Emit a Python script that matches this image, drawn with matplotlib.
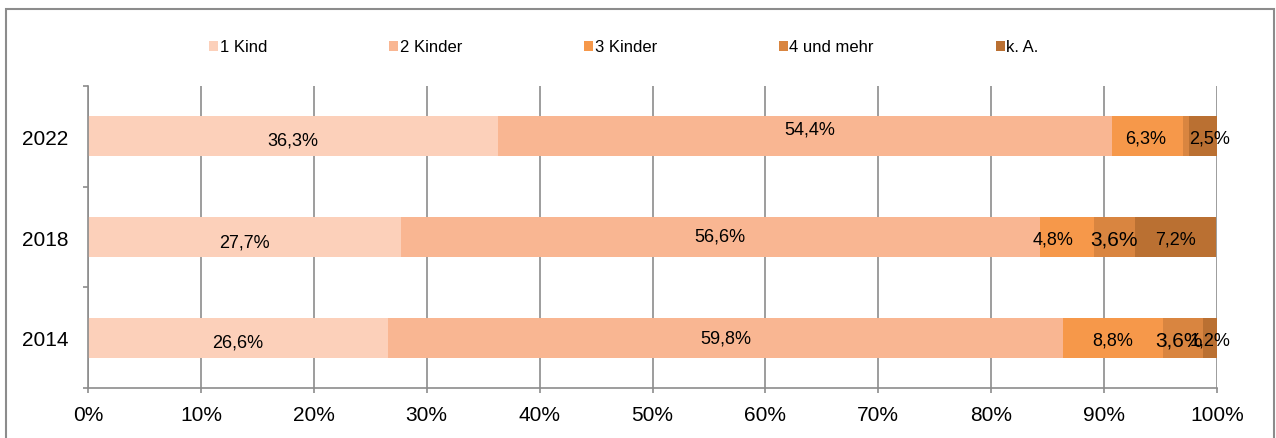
import matplotlib
matplotlib.use('Agg')
import matplotlib.pyplot as plt
from matplotlib.patches import Rectangle
import numpy as np

plt.rcParams['font.family'] = ['Liberation Sans', 'DejaVu Sans']

years = ['2014', '2018', '2022']
series = ['1 Kind', '2 Kinder', '3 Kinder', '4 und mehr', 'k. A.']
kind1 = [26.6, 27.7, 36.3]
kinder2 = [59.8, 56.6, 54.4]
kinder3 = [8.8, 4.8, 6.3]
mehr4 = [3.6, 3.6, 0.5]
ka = [1.2, 7.2, 2.5]
values = [kind1, kinder2, kinder3, mehr4, ka]
colors = ['#FCD0BA', '#F9B692', '#F6984A', '#D98540', '#BA7032']

# manual label nudges (px) as in the original Excel chart: (series, year) -> (dx, dy, size)
nudges = {
    (0, 0): (0, -4, 13), (1, 0): (0, 0, 13), (2, 0): (0, -2, 13), (3, 0): (-4, -2, 15), (4, 0): (0, -2, 13),
    (0, 1): (0, -5, 13), (1, 1): (0, 1, 13), (2, 1): (-14, -2, 13), (3, 1): (0, -2, 15), (4, 1): (0, -2, 13),
    (0, 2): (0, -4, 13), (1, 2): (5, 7, 13), (2, 2): (-2, -2, 13), (4, 2): (7, -2, 13),
}

grey = '#8C8C8C'
fig = plt.figure(figsize=(12.76, 4.39), dpi=100)
ax = fig.add_axes([88 / 1276, 50 / 439, 1129 / 1276, 302 / 439])

y = np.arange(len(years))
left = np.zeros(len(years))
for i, vals in enumerate(values):
    ax.barh(y, vals, left=left, height=0.4, color=colors[i], label=series[i], zorder=2)
    for j, v in enumerate(vals):
        if (i, j) in nudges:
            dx, dy, fs = nudges[(i, j)]
            ax.annotate(f'{v:.1f}'.replace('.', ',') + '%', (left[j] + v / 2, j),
                        xytext=(dx * 0.72, dy * 0.72), textcoords='offset points',
                        ha='center', va='center', fontsize=fs, color='black', zorder=3)
    left = left + np.array(vals)

ax.set_xlim(0, 100)
ax.set_ylim(-0.5, 2.5)
ax.set_xticks(np.arange(0, 101, 10))
ax.set_xticklabels([f'{t}%' for t in range(0, 101, 10)], fontsize=15)
ax.set_yticks([-0.5, 0.5, 1.5, 2.5])
ax.set_yticklabels([])
ax.set_yticks(y, minor=True)
ax.set_yticklabels(years, minor=True, fontsize=15)
ax.tick_params(axis='y', which='minor', length=0, pad=14)
ax.tick_params(axis='y', which='major', length=3.6, width=1.2, color=grey, direction='out')
ax.tick_params(axis='x', length=3.6, width=1.2, color=grey, direction='out', pad=9)
ax.grid(axis='x', color=grey, lw=1.2, zorder=1)
ax.set_axisbelow(True)
for s in ['top', 'right']:
    ax.spines[s].set_visible(False)
for s in ['left', 'bottom']:
    ax.spines[s].set_color(grey)
    ax.spines[s].set_linewidth(1.2)

handles, labels = ax.get_legend_handles_labels()
fig.legend(handles, labels, loc='center left', bbox_to_anchor=(209 / 1276, 1 - 48 / 439), ncol=5,
           frameon=False, fontsize=12, handlelength=0.55, handleheight=0.55, handletextpad=0.1,
           columnspacing=7.3, borderaxespad=0, borderpad=0)

fig.add_artist(Rectangle((6 / 1276, -0.1), 1268 / 1276, 1.1 - 10 / 439, transform=fig.transFigure,
                         fill=False, edgecolor=grey, lw=1.5))

plt.savefig('out.png', dpi=100)
